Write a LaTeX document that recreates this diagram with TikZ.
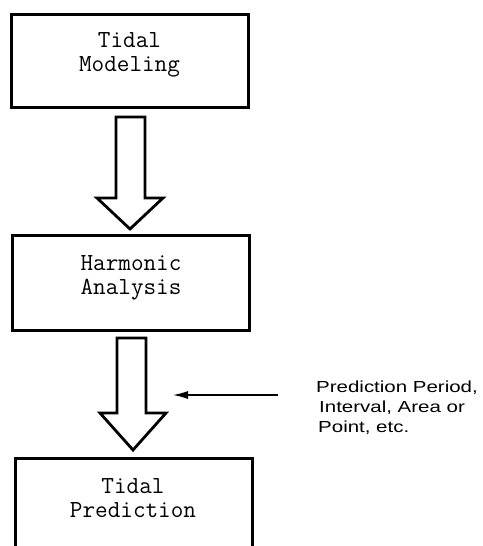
\documentclass[tikz,border=0pt]{standalone}
\usepackage{fontspec}
\newfontfamily\labfont[FakeStretch=1.28]{Liberation Sans}
\usetikzlibrary{arrows.meta,calc}
\begin{document}
\begin{tikzpicture}[x=1pt,y=1pt,
  box/.style={draw=black,line width=3pt,minimum width=237pt,inner sep=0pt},
  boxtext/.style={align=center,inner sep=0pt,font=\ttfamily\fontsize{24.5}{24}\selectfont},
  blockarrow/.style={draw=black,line width=2.8pt,fill=white,line join=miter},
  labeltext/.style={align=left,inner sep=0pt,font=\labfont\fontsize{16}{20}\selectfont},
  thinarrow/.style={line width=1.3pt,-{Latex[length=15pt,width=8pt]}}]
\useasboundingbox (0,0) rectangle (482,-546);
\clip (0,0) rectangle (482,-546);
% boxes
\node[box,minimum height=93pt] (box1) at (129.5,-60.5) {};
\node[boxtext] (t1) at (129.5,-55) {Tidal\\Modeling};
\node[box,minimum height=95pt] (box2) at (130.5,-282.5) {};
\node[boxtext] (t2) at (131,-278) {Harmonic\\Analysis};
\node[box,minimum height=110pt] (box3) at (133.5,-513) {};
\node[boxtext] (t3) at (133,-498) {Tidal\\Prediction};
% block arrows
\draw[blockarrow] (116,-117) -- (145,-117) -- (145,-198) -- (163,-198) -- (130,-229)
  -- (97,-198) -- (116,-198) -- cycle;
\draw[blockarrow] (117,-338) -- (146,-338) -- (146,-413) -- (166,-413) -- (133,-450)
  -- (100,-413) -- (117,-413) -- cycle;
% input arrow
\coordinate (src) at (278,-395);
\coordinate (tgt) at (173,-395);
\draw[thinarrow] (src) -- (tgt);
\node[labeltext,anchor=north west] (lab) at (316,-381)
  {Prediction Period,\\\hspace{3pt}Interval, Area or\\\hspace{2pt}Point, etc.};
\end{tikzpicture}
\end{document}
